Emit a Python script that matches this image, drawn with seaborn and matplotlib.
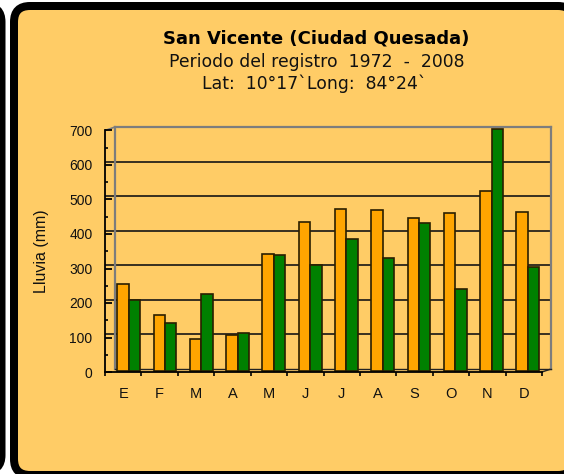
import matplotlib
matplotlib.use("Agg")
import matplotlib.pyplot as plt
import pandas as pd
import seaborn as sns
from matplotlib.patches import FancyBboxPatch

# Monthly rainfall (mm)
meses = ["Ene", "Feb", "Mar", "Abr", "May", "Jun",
         "Jul", "Ago", "Set", "Oct", "Nov", "Dic"]
etiquetas = ["E", "F", "M", "A", "M", "J", "J", "A", "S", "O", "N", "D"]
promedio = [250, 160, 92, 102, 337, 431, 467, 464, 443, 455, 519, 460]
anual = [205, 137, 222, 109, 335, 305, 381, 325, 427, 236, 700, 301]
series = ["Promedio", "Año"]
yticks = [0, 100, 200, 300, 400, 500, 600, 700]

titulo = "San Vicente (Ciudad Quesada)"
linea2 = "Periodo del registro  1972  -  2008"
linea3 = "Lat:  10°17`Long:  84°24`"

naranja = "#FFA500"
verde = "#008000"
fondo = "#FFCC66"

df = pd.DataFrame({
    "mes": meses * 2,
    "serie": [series[0]] * 12 + [series[1]] * 12,
    "lluvia": promedio + anual,
})

sns.set_theme(style="white")
plt.rcParams["font.family"] = ["Liberation Sans", "DejaVu Sans"]

W, H = 564, 474
fig = plt.figure(figsize=(W / 100, H / 100), dpi=100, facecolor="white")


def pos(x0, y0, x1, y1):
    """Pixel box (top-left origin) -> figure fraction rect."""
    return [x0 / W, 1 - y1 / H, (x1 - x0) / W, (y1 - y0) / H]


# Panel frame drawn in pixel units
frame = fig.add_axes([0, 0, 1, 1], zorder=0)
frame.set_xlim(0, W)
frame.set_ylim(H, 0)
frame.set_axis_off()
lw_px = 8 * 72 / 100
frame.add_patch(FancyBboxPatch((-40, 6), 41.5, 465,
                               boxstyle="round,pad=0,rounding_size=16",
                               fc="white", ec="black", lw=lw_px))
frame.add_patch(FancyBboxPatch((14, 6), 560, 469,
                               boxstyle="round,pad=0,rounding_size=16",
                               fc=fondo, ec="black", lw=lw_px))

# 3D-like layout: back wall, bars at mid depth, front axes
back_box = (115, 127, 551, 369)
mid_box = (110.6, 128.8, 546, 370.5)
front_box = (105, 130.5, 542, 372)

ax_back = fig.add_axes(pos(*back_box), zorder=1)
ax_mid = fig.add_axes(pos(*mid_box), zorder=2)
ax_front = fig.add_axes(pos(*front_box), zorder=3)

# back wall
ax_back.set_facecolor("none")
ax_back.set_xlim(-0.5, 11.5)
ax_back.set_ylim(0, 700)
ax_back.set_xticks([])
ax_back.set_yticks([])
for s in ["left", "right", "top"]:
    ax_back.spines[s].set_color("#7d7d7d")
    ax_back.spines[s].set_linewidth(1.6)
ax_back.spines["bottom"].set_color("#222222")
ax_back.spines["bottom"].set_linewidth(1.0)
side = (back_box[0] - front_box[0]) / (back_box[2] - back_box[0])
ax_back.hlines(yticks[1:-1], -side, 1.0, transform=ax_back.get_yaxis_transform(),
               colors="#151515", linewidth=1.2, clip_on=False)

# bars
ax_mid.patch.set_visible(False)
sns.barplot(data=df, x="mes", y="lluvia", hue="serie", order=meses,
            hue_order=series, palette=[naranja, verde], width=0.63,
            saturation=1, errorbar=None, edgecolor="#2a1f00", linewidth=1.2,
            legend=False, ax=ax_mid)
ax_mid.set_xlim(-0.5, 11.5)
ax_mid.set_ylim(0, 700)
ax_mid.set_axis_off()
for p in ax_mid.patches:
    p.set_clip_on(False)

# front axes with ticks and labels
ax_front.set_facecolor("none")
ax_front.set_xlim(-0.5, 11.5)
ax_front.set_ylim(0, 700)
for s in ["top", "right"]:
    ax_front.spines[s].set_visible(False)
for s in ["left", "bottom"]:
    ax_front.spines[s].set_color("black")
    ax_front.spines[s].set_linewidth(1.3)
ax_front.set_yticks(yticks)
ax_front.set_yticks([v + 50 for v in yticks[:-1]], minor=True)
ax_front.set_yticklabels([str(v) for v in yticks], fontsize=10, color="#111111")
ax_front.set_xticks([i - 0.5 for i in range(13)])
ax_front.set_xticklabels([])
ax_front.set_xticks(list(range(12)), minor=True)
ax_front.set_xticklabels(etiquetas, minor=True, fontsize=10.5, color="#111111")
ax_front.tick_params(axis="y", which="major", direction="in", length=5,
                     width=1.3, color="black", pad=9, left=True)
ax_front.tick_params(axis="y", which="minor", direction="in", length=2.5,
                     width=1.2, color="black", left=True)
ax_front.tick_params(axis="x", which="major", direction="out", length=3,
                     width=1.2, color="black", bottom=True)
ax_front.tick_params(axis="x", which="minor", length=0, pad=11, bottom=True)

# floor edges and side wall top edge
frame.plot([front_box[2], back_box[2]], [front_box[3], back_box[3]],
           color="#222222", lw=1.0, zorder=5)
frame.plot([front_box[0], back_box[0]], [front_box[1], back_box[1]],
           color="#7d7d7d", lw=1.2, zorder=5)

fig.text(41.7 / W, 1 - 251.5 / H, "Lluvia (mm)", rotation=90, ha="center",
         va="center", fontsize=11.5, color="#111111")

fig.text(316 / W, 1 - 44 / H, titulo, ha="center", va="baseline",
         fontsize=13, fontweight="bold", family="DejaVu Sans", color="black")
fig.text(317 / W, 1 - 66.7 / H, linea2, ha="center", va="baseline",
         fontsize=12.4, family="DejaVu Sans", color="#111111")
fig.text(314 / W, 1 - 89 / H, linea3, ha="center", va="baseline",
         fontsize=12.4, family="DejaVu Sans", color="#111111")

fig.savefig("out.png", dpi=100, facecolor="white")
